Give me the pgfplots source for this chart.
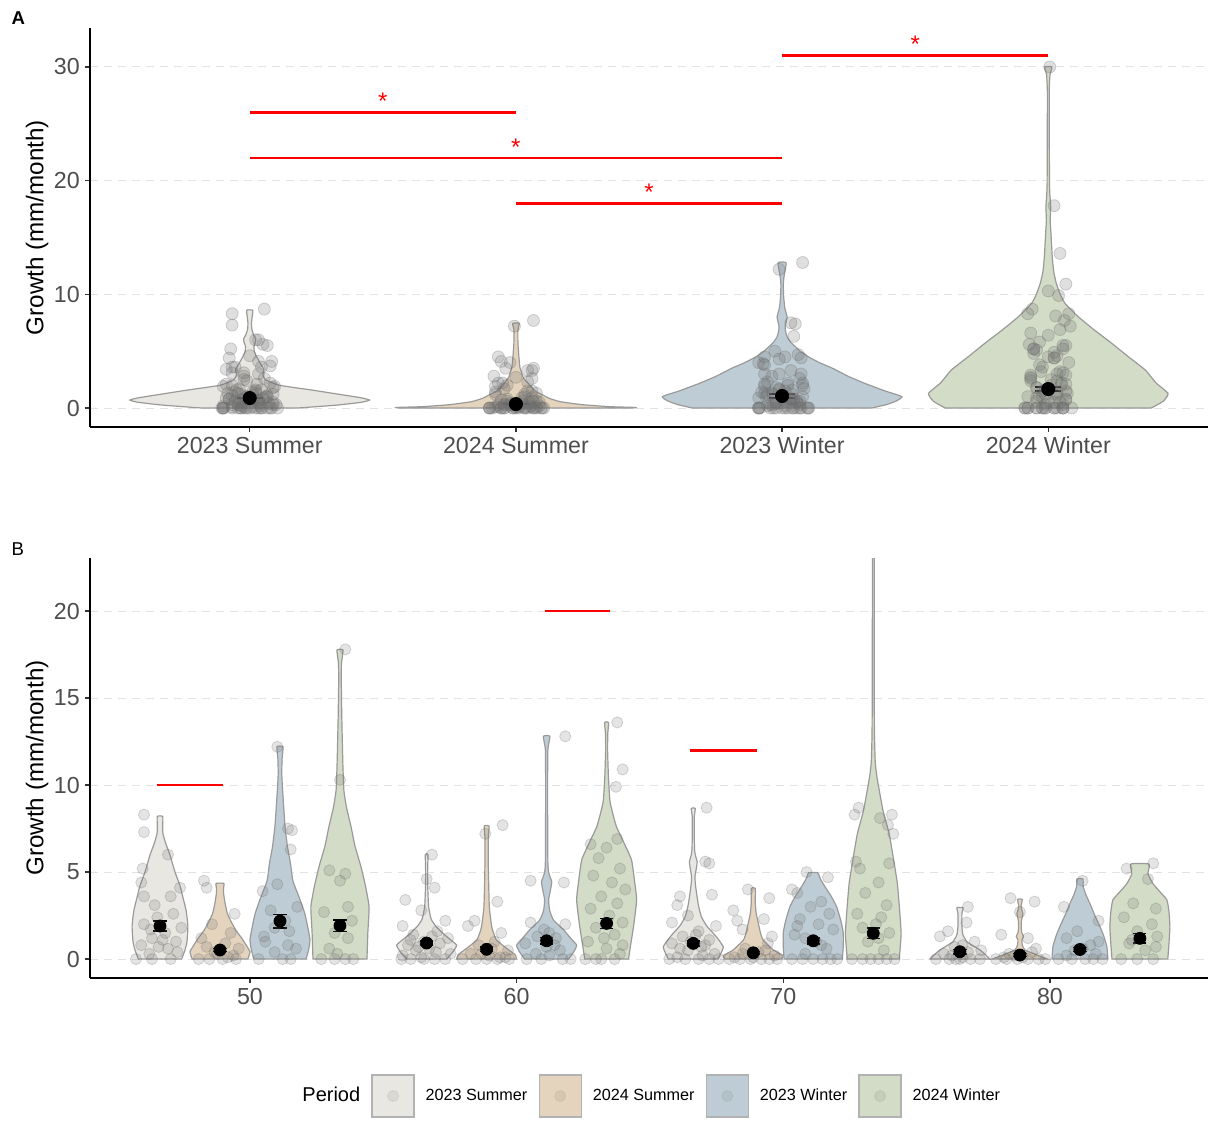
\documentclass[border=0pt]{standalone}
\usepackage{fontspec}
\setmainfont{Liberation Sans}
\usepackage{pgfplots}
\pgfplotsset{compat=1.18}
\usepackage{pgfplotstable}

\definecolor{cSuA}{HTML}{E9E7E1}
\definecolor{cSuB}{HTML}{E5D4BD}
\definecolor{cWiA}{HTML}{BECDD5}
\definecolor{cWiB}{HTML}{D2DCC6}
\definecolor{vline}{HTML}{9A9A9A}
\definecolor{ticktext}{HTML}{4D4D4D}
\definecolor{gridc}{HTML}{E2E2E2}
\definecolor{ptc}{HTML}{6E6E6E}

% turn an outline table (y, relative half-width d) into a closed outline:
% right side upwards (s = d), then left side downwards (s = -d)
\newcommand\mirror[1]{%
  \pgfplotstablesort[sort key=y, sort cmp=float >]\vtmp{#1}%
  \pgfplotstablecreatecol[expr={\thisrow{d}}]{s}{#1}%
  \pgfplotstablecreatecol[expr={-\thisrow{d}}]{s}{\vtmp}%
  \pgfplotstablevertcat{#1}{\vtmp}%
}

% ---------- violin outlines: y and relative half-width d (1 = widest) ----------
% panel A
\pgfplotstableread{
y d
0 0.40
0.25 0.72
0.5 0.93
0.7 1.0
0.9 0.93
1.2 0.75
1.58 0.52
2.0 0.25
2.5 0.13
3.0 0.11
3.35 0.12
3.9 0.09
4.5 0.058
5.0 0.038
5.4 0.035
5.8 0.048
6.1 0.05
6.5 0.03
7.0 0.017
7.5 0.015
8.0 0.02
8.6 0.025
}\vAi
\pgfplotstableread{
y d
0 0.97
0.05 1.0
0.12 0.78
0.3 0.55
0.56 0.37
0.85 0.28
1.14 0.225
1.5 0.16
2.0 0.117
2.4 0.08
2.75 0.058
3.2 0.045
3.6 0.033
4.5 0.025
5.7 0.017
6.9 0.017
7.45 0.027
}\vAii
\pgfplotstableread{
y d
0 0.75
0.3 0.87
0.6 0.95
1.0 1.0
1.5 0.86
2.17 0.69
2.8 0.55
3.5 0.42
4.0 0.31
4.5 0.22
5.0 0.15
5.4 0.11
5.8 0.07
6.27 0.042
6.7 0.03
7.15 0.025
7.6 0.035
8.03 0.042
8.5 0.03
8.9 0.021
9.8 0.013
10.8 0.01
11.5 0.015
12.1 0.025
12.8 0.033
}\vAiii
\pgfplotstableread{
y d
0 0.86
0.6 0.96
1.29 1.0
2.2 0.9
3.34 0.81
4.5 0.67
5.69 0.53
6.9 0.38
8.03 0.25
9.2 0.14
10.0 0.1
10.97 0.067
12.0 0.045
13.3 0.033
15.4 0.022
16.5 0.016
17.7 0.02
18.8 0.013
19.8 0.01
22.0 0.009
25.6 0.008
28.0 0.008
29.3 0.014
30.0 0.03
}\vAiv
% panel B, depth 50
\pgfplotstableread{
y d
0 0.72
0.5 0.83
1.0 0.9
1.9 0.93
2.8 0.87
3.5 0.77
4.2 0.67
5.0 0.5
6.0 0.33
6.6 0.2
7.2 0.1
7.7 0.09
8.2 0.09
}\vBai
\pgfplotstableread{
y d
0 0.93
0.42 1.0
0.8 0.87
1.19 0.73
1.6 0.55
2.05 0.4
2.6 0.25
3.2 0.17
3.78 0.12
4.1 0.12
4.35 0.13
}\vBaii
\pgfplotstableread{
y d
0 0.87
0.5 0.95
1.09 1.0
1.8 0.93
2.6 0.83
3.5 0.65
4.5 0.43
5.5 0.35
6.45 0.25
7.6 0.17
8.3 0.14
9.1 0.11
9.9 0.08
10.7 0.06
11.5 0.07
12.2 0.1
}\vBaiii
\pgfplotstableread{
y d
0 0.9
1.55 0.93
3.0 0.97
4.2 0.85
5.3 0.7
6.5 0.5
7.6 0.37
8.7 0.22
9.7 0.13
11.0 0.1
12.6 0.077
14.0 0.06
16.0 0.043
17.0 0.05
17.76 0.1
}\vBaiv
% depth 60
\pgfplotstableread{
y d
0 0.67
0.4 0.87
0.8 1.0
1.2 0.73
1.5 0.53
1.9 0.3
2.3 0.15
3.0 0.067
4.0 0.04
5.0 0.033
6.0 0.043
}\vBbi
\pgfplotstableread{
y d
0 1.0
0.25 0.95
0.61 0.67
1.09 0.33
1.5 0.23
1.86 0.17
3.0 0.09
5.3 0.057
7.0 0.057
7.64 0.08
}\vBbii
\pgfplotstableread{
y d
0 0.73
0.4 0.9
0.8 1.0
1.2 0.8
1.67 0.57
2.24 0.23
2.8 0.1
3.4 0.067
3.9 0.12
4.44 0.17
4.9 0.08
5.5 0.043
9.1 0.033
12.0 0.04
12.8 0.11
}\vBbiii
\pgfplotstableread{
y d
0 0.73
0.8 0.8
1.9 0.9
3.4 1.0
4.5 0.93
5.7 0.83
6.6 0.6
7.6 0.33
8.4 0.2
9.1 0.11
10.5 0.06
12.0 0.033
13.0 0.04
13.6 0.067
}\vBbiv
% depth 70
\pgfplotstableread{
y d
0 0.83
0.35 0.93
0.7 1.0
1.1 0.85
1.48 0.67
1.9 0.45
2.43 0.27
3.1 0.17
3.78 0.11
4.3 0.07
4.73 0.057
5.2 0.1
5.59 0.13
5.9 0.08
6.26 0.043
7.2 0.033
8.18 0.033
8.66 0.067
}\vBci
\pgfplotstableread{
y d
0 0.93
0.2 1.0
0.52 0.67
1.09 0.33
1.5 0.24
2.05 0.17
2.6 0.1
3.2 0.067
4.06 0.067
}\vBcii
\pgfplotstableread{
y d
0 0.97
0.7 1.0
1.5 1.0
2.2 0.92
3.0 0.78
3.6 0.6
4.16 0.39
4.6 0.24
4.96 0.15
}\vBciii
\pgfplotstableread{
y d
0 0.87
0.7 0.9
1.5 0.93
3.0 0.87
4.4 0.8
5.8 0.67
7.2 0.53
8.5 0.33
9.7 0.2
10.5 0.12
11.3 0.067
13.0 0.04
15.9 0.033
20.0 0.03
25.0 0.03
30.0 0.03
}\vBciv
% depth 80
\pgfplotstableread{
y d
0 1.0
0.25 0.85
0.52 0.67
0.75 0.45
1.0 0.23
1.4 0.1
1.86 0.067
2.63 0.067
2.95 0.1
}\vBdi
\pgfplotstableread{
y d
0 0.93
0.23 0.57
0.52 0.17
0.8 0.08
1.1 0.067
1.3 0.12
1.5 0.067
1.8 0.043
2.2 0.05
2.6 0.1
2.9 0.05
3.1 0.043
3.43 0.077
}\vBdii
\pgfplotstableread{
y d
0 0.93
0.7 0.9
1.3 0.8
1.86 0.67
2.5 0.5
3.2 0.33
3.7 0.2
4.16 0.11
4.6 0.1
}\vBdiii
\pgfplotstableread{
y d
0 0.93
0.9 0.97
1.86 1.0
2.7 0.97
3.4 0.9
3.9 0.65
4.35 0.43
4.9 0.27
5.46 0.3
}\vBdiv

\mirror\vAi \mirror\vAii \mirror\vAiii \mirror\vAiv
\mirror\vBai \mirror\vBaii \mirror\vBaiii \mirror\vBaiv
\mirror\vBbi \mirror\vBbii \mirror\vBbiii \mirror\vBbiv
\mirror\vBci \mirror\vBcii \mirror\vBciii \mirror\vBciv
\mirror\vBdi \mirror\vBdii \mirror\vBdiii \mirror\vBdiv

% ---------- individual growth records: depth g, growth y, jitter j in [-1,1] ----------
\pgfplotstableread{
g y j
50 8.3 -0.6
50 7.3 -0.6
50 6.0 0.3
50 5.2 -0.65
50 4.4 -0.7
50 4.1 0.75
50 3.6 -0.6
50 3.6 0.4
50 3.1 -0.2
50 2.6 0.5
50 2.4 -0.1
50 2.0 -0.6
50 1.8 0.8
50 1.7 -0.35
50 1.5 0.2
50 1.2 -0.3
50 1.1 0.1
50 1.0 0.6
50 0.8 -0.7
50 0.7 -0.05
50 0.6 0.3
50 0.4 0.65
50 0.3 -0.4
50 0 -0.3
50 0 0.4
50 0 -0.9
60 6.0 0.2
60 4.6 0.0
60 4.1 0.3
60 3.4 -0.8
60 2.8 -0.2
60 2.2 0.7
60 1.9 -0.9
60 1.6 0.4
60 1.4 -0.5
60 1.3 0.2
60 1.2 0.8
60 1.1 -0.6
60 1.0 -0.1
60 0.9 0.5
60 0.8 -0.7
60 0.7 -0.3
60 0.6 0.1
60 0.5 -0.4
60 0.4 0.35
60 0.3 0.9
60 0.2 -0.9
60 0.1 -0.2
60 0 -0.6
60 0 -0.1
60 0 0.3
60 0 0.7
60 0 -0.95
70 8.7 0.5
70 5.6 0.45
70 5.5 0.6
70 3.7 0.7
70 3.6 -0.5
70 3.1 -0.6
70 2.5 -0.2
70 2.1 -0.8
70 1.9 0.85
70 1.6 0.2
70 1.4 0.1
70 1.3 -0.4
70 1.1 0.6
70 1.0 -0.1
70 0.9 -0.8
70 0.8 0.45
70 0.7 0.3
70 0.6 -0.5
70 0.5 -0.2
70 0.3 0.8
70 0.2 0.35
70 0.1 -0.6
70 0 -0.9
70 0 -0.3
70 0 0.2
70 0 0.6
70 0 0.95
80 3.0 0.3
80 2.1 0.25
80 1.6 -0.45
80 1.3 -0.75
80 1.0 0.55
80 0.8 0.1
80 0.7 -0.2
80 0.5 0.8
80 0.4 0.3
80 0.3 -0.6
80 0.2 -0.3
80 0.1 0.1
80 0 -0.9
80 0 -0.4
80 0 0.0
80 0 0.4
80 0 0.75
80 0 -0.15
}\pSuA
\pgfplotstableread{
g y j
50 4.5 -0.6
50 4.1 -0.5
50 2.6 0.55
50 2.0 -0.3
50 1.5 0.4
50 1.2 -0.7
50 0.9 0.2
50 0.7 -0.5
50 0.6 0.7
50 0.4 -0.2
50 0.3 -0.1
50 0.2 0.5
50 0.1 0.3
50 0 -0.4
50 0 0.1
50 0 0.6
50 0 -0.8
60 7.7 0.6
60 7.2 -0.05
60 3.3 0.4
60 2.2 -0.45
60 1.9 -0.7
60 1.5 0.55
60 1.0 0.3
60 0.8 -0.3
60 0.6 0.2
60 0.5 0.8
60 0.3 -0.6
60 0.3 -0.2
60 0.2 0.1
60 0.1 0.5
60 0.1 0.7
60 0 -0.9
60 0 -0.4
60 0 0.0
60 0 0.4
60 0 0.85
70 4.0 -0.2
70 3.5 0.6
70 2.8 -0.75
70 2.3 0.4
70 2.2 -0.6
70 1.7 -0.4
70 1.3 0.7
70 0.9 0.55
70 0.6 -0.3
70 0.5 0.45
70 0.4 0.2
70 0.3 -0.4
70 0.2 0.8
70 0.1 -0.7
70 0.1 0.0
70 0 -0.9
70 0 -0.5
70 0 -0.1
70 0 0.3
70 0 0.6
70 0 0.9
80 3.5 -0.35
80 3.3 0.55
80 2.7 0.0
80 1.4 -0.7
80 1.2 0.3
80 0.6 0.6
80 0.4 0.45
80 0.3 -0.4
80 0.2 -0.2
80 0.1 0.1
80 0.1 -0.6
80 0 -0.9
80 0 -0.5
80 0 -0.1
80 0 0.3
80 0 0.7
80 0 0.95
}\pSuB
\pgfplotstableread{
g y j
50 12.2 -0.1
50 7.5 0.3
50 7.4 0.45
50 6.3 0.4
50 4.3 -0.1
50 3.9 -0.65
50 3.0 0.65
50 2.8 -0.35
50 2.2 0.2
50 1.8 -0.2
50 1.6 0.35
50 1.3 -0.6
50 1.0 -0.55
50 0.8 0.3
50 0.6 0.6
50 0.4 -0.2
50 0 0.1
50 0 0.4
50 0 -0.8
60 12.8 0.7
60 4.5 -0.6
60 4.4 0.65
60 2.1 -0.6
60 2.0 0.7
60 1.7 -0.1
60 1.5 0.1
60 1.3 -0.35
60 1.2 0.35
60 0.9 -0.8
60 0.8 0.3
60 0.7 0.0
60 0.5 0.5
60 0.3 -0.4
60 0.2 0.1
60 0 -0.75
60 0 -0.2
60 0 0.6
60 0 0.9
70 5.0 -0.25
70 4.7 0.55
70 4.0 -0.8
70 3.8 -0.6
70 3.3 0.3
70 3.0 -0.1
70 2.6 0.6
70 2.3 -0.5
70 2.0 0.2
70 1.9 -0.6
70 1.7 0.75
70 1.4 -0.7
70 1.2 -0.3
70 1.0 0.1
70 0.8 0.3
70 0.6 0.5
70 0.3 -0.3
70 0 -0.8
70 0 -0.4
70 0 0.0
70 0 0.35
70 0 0.65
70 0 0.9
80 4.5 0.1
80 3.0 -0.6
80 2.2 0.7
80 1.6 -0.1
80 1.2 -0.5
80 1.0 0.7
80 0.8 0.4
80 0.6 0.1
80 0.5 -0.2
80 0.3 0.6
80 0.2 -0.5
80 0 -0.8
80 0 -0.3
80 0 0.2
80 0 0.5
80 0 0.85
}\pWiA
\pgfplotstableread{
g y j
50 17.8 0.2
50 10.3 0.0
50 5.1 -0.4
50 4.9 0.2
50 4.5 0.0
50 3.0 0.3
50 2.7 -0.6
50 2.2 0.45
50 1.5 -0.2
50 1.2 0.3
50 0.6 -0.4
50 0.3 -0.1
50 0 -0.7
50 0 -0.2
50 0 0.2
50 0 0.5
60 13.6 0.4
60 10.9 0.6
60 9.9 0.35
60 6.9 0.4
60 6.6 -0.6
60 6.4 0.0
60 5.8 -0.3
60 5.2 0.5
60 4.8 -0.5
60 4.4 0.2
60 4.0 0.7
60 3.6 -0.2
60 3.2 0.4
60 2.9 -0.6
60 2.5 0.1
60 2.1 0.6
60 1.8 -0.4
60 1.4 0.3
60 1.2 -0.1
60 1.0 -0.7
60 0.8 0.6
60 0.6 0.0
60 0.3 0.5
60 0 -0.4
60 0 -0.2
60 0 0.3
60 0 -0.8
70 30.0 0.05
70 8.7 -0.55
70 8.3 -0.7
70 8.3 0.7
70 8.1 0.25
70 7.7 0.55
70 7.2 0.75
70 5.6 -0.65
70 5.5 0.6
70 5.2 -0.5
70 4.4 0.2
70 3.8 -0.3
70 3.1 0.5
70 2.6 -0.6
70 2.4 0.3
70 2.0 0.1
70 1.8 -0.4
70 1.5 0.6
70 1.2 0.2
70 1.0 -0.2
70 0.5 0.4
70 0 -0.8
70 0 -0.4
70 0 -0.1
70 0 0.2
70 0 0.5
70 0 0.8
80 5.5 0.5
80 5.2 -0.5
80 4.6 0.3
80 3.2 -0.25
80 2.9 0.6
80 2.4 -0.6
80 2.0 0.45
80 1.6 -0.1
80 1.3 0.65
80 1.1 -0.3
80 0.9 -0.4
80 0.7 0.6
80 0.5 0.2
80 0 -0.7
80 0 -0.1
80 0 0.5
}\pWiB

% ---------- means with standard errors ----------
\pgfplotstableread{
x y e
1 0.88 0.04
2 0.35 0.04
3 1.06 0.18
4 1.67 0.18
}\meanA
\pgfplotstableread{
x y e
46.625 1.90 0.29
48.875 0.52 0.08
51.125 2.18 0.38
53.375 1.92 0.33
56.625 0.92 0.12
58.875 0.56 0.12
61.125 1.05 0.20
63.375 2.05 0.29
66.625 0.90 0.14
68.875 0.36 0.08
71.125 1.05 0.17
73.375 1.48 0.29
76.625 0.42 0.12
78.875 0.23 0.08
81.125 0.55 0.12
83.375 1.19 0.27
}\meanB

% one violin: centre, maximum half-width, fill colour, closed outline table
\newcommand\violin[4]{%
  \addplot[fill=#3, draw=vline, line width=0.6pt, forget plot, smooth, tension=0.3]
    table[x expr={#1+#2*\thisrow{s}}, y=y]{#4} -- cycle;
}

\pgfplotsset{
  panel/.style={
    scale only axis, anchor=south west, clip=true,
    axis x line=bottom, axis y line=left,
    axis line style={-, black, line width=0.9pt},
    tick align=outside, major tick length=2.5pt,
    tick style={black!80, line width=0.7pt},
    ymajorgrids,
    major grid style={gridc, line width=0.5pt, dash pattern=on 4pt off 3pt},
    tick label style={font=\fontsize{11.6}{13}\selectfont, text=ticktext, inner sep=0pt},
    xticklabel shift=2.2pt, yticklabel shift=2.4pt,
    /pgf/number format/assume math mode=true,
    every axis y label/.style={at={(axis description cs:-0.0474,0.5)}, rotate=90,
      anchor=center, font=\fontsize{12.1}{14}\selectfont},
    ylabel={Growth (mm/month)},
  },
  pts/.style 2 args={only marks, mark=*, mark size=#1, forget plot,
    mark options={draw=ptc, fill=ptc, draw opacity=#2+0.08, fill opacity=#2}},
  ebar/.style={only marks, mark=none, forget plot,
    error bars/.cd, y dir=both, y explicit,
    error bar style={draw=black, line width=0.8pt},
    error mark options={draw=black, rotate=90, mark size=#1, line width=0.8pt}},
  meandot/.style={only marks, mark=*, mark size=#1, black, forget plot},
  sig/.style={red, line width=1.4pt, forget plot},
}

\begin{document}
\begin{tikzpicture}
\path[use as bounding box] (0pt,0pt) rectangle (604pt,-562pt);
\node[anchor=base west, inner sep=0pt, font=\fontsize{9.3}{11}\selectfont\bfseries] at (5.6pt,-12.5pt) {A};
\node[anchor=base west, inner sep=0pt, font=\fontsize{9.3}{11}\selectfont] at (5.6pt,-277.5pt) {B};

% ---------------- panel A: growth by period ----------------
\begin{axis}[panel, at={(45pt,-213.5pt)}, width=559pt, height=199.5pt,
  xmin=0.4, xmax=4.6, ymin=-1.67, ymax=33.43,
  xtick={1,2,3,4},
  xticklabels={2023 Summer, 2024 Summer, 2023 Winter, 2024 Winter},
  ytick={0,10,20,30}]
  \violin{1}{0.45}{cSuA}{\vAi}
  \violin{2}{0.45}{cSuB}{\vAii}
  \violin{3}{0.45}{cWiA}{\vAiii}
  \violin{4}{0.45}{cWiB}{\vAiv}
  \addplot[pts={3pt}{0.22}] table[x expr={1+0.11*\thisrow{j}}, y=y]{\pSuA};
  \addplot[pts={3pt}{0.22}] table[x expr={2+0.11*\thisrow{j}}, y=y]{\pSuB};
  \addplot[pts={3pt}{0.22}] table[x expr={3+0.11*\thisrow{j}}, y=y]{\pWiA};
  \addplot[pts={3pt}{0.22}] table[x expr={4+0.11*\thisrow{j}}, y=y]{\pWiB};
  \addplot[ebar=6.5pt] table[x=x, y=y, y error=e]{\meanA};
  \addplot[meandot=3.3pt] table[x=x, y=y]{\meanA};
  % pairwise comparisons
  \addplot[sig] coordinates {(1,26) (2,26)};
  \addplot[sig] coordinates {(1,22) (3,22)};
  \addplot[sig] coordinates {(2,18) (3,18)};
  \addplot[sig] coordinates {(3,31) (4,31)};
  \node[text=red, anchor=base, inner sep=0pt, font=\fontsize{12}{12}\selectfont] at (axis cs:1.5,26.25) {*};
  \node[text=red, anchor=base, inner sep=0pt, font=\fontsize{12}{12}\selectfont] at (axis cs:2,22.25) {*};
  \node[text=red, anchor=base, inner sep=0pt, font=\fontsize{12}{12}\selectfont] at (axis cs:2.5,18.25) {*};
  \node[text=red, anchor=base, inner sep=0pt, font=\fontsize{12}{12}\selectfont] at (axis cs:3.5,31.25) {*};
\end{axis}

% ---------------- panel B: growth by depth and period ----------------
\begin{axis}[panel, at={(45pt,-489pt)}, width=559pt, height=210pt,
  xmin=44.0, xmax=85.93, ymin=-1.09, ymax=23.05,
  xtick={50,60,70,80}, ytick={0,5,10,15,20},
  legend columns=5,
  legend style={draw=none, fill=none, at={(axis description cs:0.1798,-0.281)},
    anchor=west, inner sep=0pt, font=\fontsize{8.1}{10}\selectfont,
    nodes={inner sep=0pt},
    /tikz/every odd column/.append style={column sep=5.5pt},
    /tikz/every even column/.append style={column sep=5.6pt}}]
  \violin{46.625}{1.125}{cSuA}{\vBai}
  \violin{48.875}{1.125}{cSuB}{\vBaii}
  \violin{51.125}{1.125}{cWiA}{\vBaiii}
  \violin{53.375}{1.125}{cWiB}{\vBaiv}
  \violin{56.625}{1.125}{cSuA}{\vBbi}
  \violin{58.875}{1.125}{cSuB}{\vBbii}
  \violin{61.125}{1.125}{cWiA}{\vBbiii}
  \violin{63.375}{1.125}{cWiB}{\vBbiv}
  \violin{66.625}{1.125}{cSuA}{\vBci}
  \violin{68.875}{1.125}{cSuB}{\vBcii}
  \violin{71.125}{1.125}{cWiA}{\vBciii}
  \violin{73.375}{1.125}{cWiB}{\vBciv}
  \violin{76.625}{1.125}{cSuA}{\vBdi}
  \violin{78.875}{1.125}{cSuB}{\vBdii}
  \violin{81.125}{1.125}{cWiA}{\vBdiii}
  \violin{83.375}{1.125}{cWiB}{\vBdiv}
  \addplot[pts={2.8pt}{0.19}, restrict y to domain=-5:24] table[x expr={\thisrow{g}-3.375+\thisrow{j}}, y=y]{\pSuA};
  \addplot[pts={2.8pt}{0.19}, restrict y to domain=-5:24] table[x expr={\thisrow{g}-1.125+\thisrow{j}}, y=y]{\pSuB};
  \addplot[pts={2.8pt}{0.19}, restrict y to domain=-5:24] table[x expr={\thisrow{g}+1.125+\thisrow{j}}, y=y]{\pWiA};
  \addplot[pts={2.8pt}{0.19}, restrict y to domain=-5:24] table[x expr={\thisrow{g}+3.375+\thisrow{j}}, y=y]{\pWiB};
  \addplot[ebar=3.3pt] table[x=x, y=y, y error=e]{\meanB};
  \addplot[meandot=3pt] table[x=x, y=y]{\meanB};
  \addplot[sig, line width=1.25pt] coordinates {(46.5,10) (49.0,10)};
  \addplot[sig, line width=1.25pt] coordinates {(61.06,20) (63.5,20)};
  \addplot[sig, line width=1.25pt] coordinates {(66.5,12) (69.0,12)};
  % legend
  \addlegendimage{empty legend}
  \addlegendentry{\fontsize{10}{12}\selectfont Period}
  \addlegendimage{legend image code/.code={
    \draw[draw=black!30, line width=0.6pt, fill=cSuA] (0pt,-10.5pt) rectangle (21pt,10.5pt);
    \fill[ptc, opacity=0.12] (10.5pt,0pt) circle (2.8pt);}}
  \addlegendentry{2023 Summer}
  \addlegendimage{legend image code/.code={
    \draw[draw=black!30, line width=0.6pt, fill=cSuB] (0pt,-10.5pt) rectangle (21pt,10.5pt);
    \fill[ptc, opacity=0.12] (10.5pt,0pt) circle (2.8pt);}}
  \addlegendentry{2024 Summer}
  \addlegendimage{legend image code/.code={
    \draw[draw=black!30, line width=0.6pt, fill=cWiA] (0pt,-10.5pt) rectangle (21pt,10.5pt);
    \fill[ptc, opacity=0.12] (10.5pt,0pt) circle (2.8pt);}}
  \addlegendentry{2023 Winter}
  \addlegendimage{legend image code/.code={
    \draw[draw=black!30, line width=0.6pt, fill=cWiB] (0pt,-10.5pt) rectangle (21pt,10.5pt);
    \fill[ptc, opacity=0.12] (10.5pt,0pt) circle (2.8pt);}}
  \addlegendentry{2024 Winter}
\end{axis}
\end{tikzpicture}
\end{document}
